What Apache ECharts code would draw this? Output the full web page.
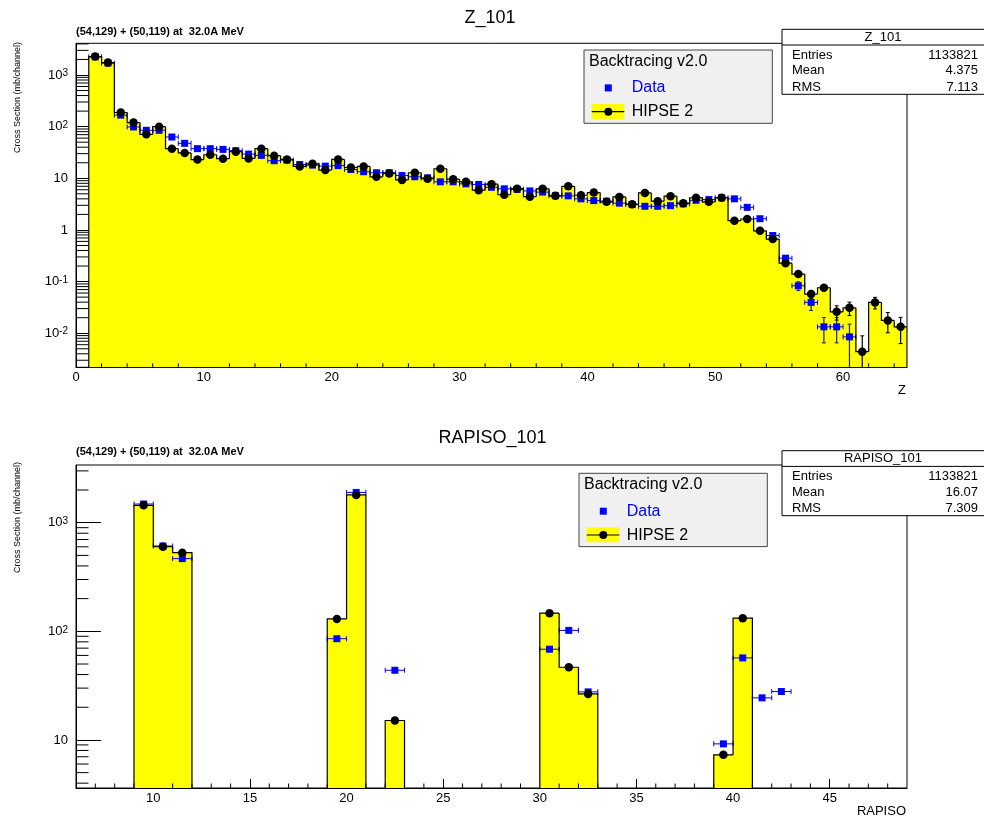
<!DOCTYPE html>
<html><head><meta charset="utf-8">
<script src="https://cdn.jsdelivr.net/npm/echarts@6/dist/echarts.min.js"></script>
<style>html,body{margin:0;padding:0;background:#fff}#c{width:984px;height:821px}</style>
</head><body><div id="c"></div>
<script>
// ================= DATA =================
// --- Z_101 (bins of width 1, given by lower edge) ---
const zHipseBinLow = [1,2,3,4,5,6,7,8,9,10,11,12,13,14,15,16,17,18,19,20,21,22,23,24,25,26,27,28,29,30,31,32,33,34,35,36,37,38,39,40,41,42,43,44,45,46,47,48,49,50,51,52,53,54,55,56,57,58,59,60,61,62,63,64];
const zHipse = [2270,1740,188,120,71,100,37.5,31,23,28.6,
  24,32.8,24.3,37.5,27.4,23.2,17,19.1,14.4,23.2,
  16.2,17,10.7,12.4,9.3,12.8,9.8,15.3,9.6,8.55,
  5.9,7.7,4.8,6.3,4.4,6.25,4.57,7.0,4.7,5.3,
  3.5,4.35,3.15,5.2,3.6,4.5,3.3,4.2,3.5,4.2,
  1.51,1.63,0.96,0.665,0.227,0.14,0.0574,0.076,0.026,0.031,
  0.0044,0.0395,0.0177,0.0133];
const zHipseErr = [0,0,0,0,0,0,0,0,0,0, 0,0,0,0,0,0,0,0,0,0, 0,0,0,0,0,0,0,0,0,0,
  0,0,0,0,0,0,0,0,0,0, 0,0,0,0,0,0,0,0,0,0, 0,0,0,0,0.02,0.012,0.01,0.01,0.008,0.009,
  0.0045,0.01,0.0075,0.007];
const zDataBinLow = [1,2,3,4,5,6,7,8,9,10,11,12,13,14,15,16,17,18,19,20,21,22,23,24,25,26,27,28,29,30,31,32,33,34,35,36,37,38,39,40,41,42,43,44,45,46,47,48,49,50,51,52,53,54,55,56,57,58,59,60];
const zData = [2250,1700,167,98.6,85,85,63,47.5,37.5,37.5,
  36.3,34.3,29.4,27.8,21.9,22.5,18.5,18,17.2,17.6,
  14.8,13.4,12.8,12.8,11.3,10.7,10.2,8.55,8.55,7.8,
  7.6,6.7,6.25,6.1,5.7,5.4,4.6,4.57,4.0,3.7,
  3.6,3.3,3.1,2.87,2.87,2.95,3.2,3.75,3.87,4.2,
  4.0,2.74,1.65,0.78,0.284,0.083,0.0395,0.0133,0.0133,0.0085];
const zDataErr = [0,0,0,0,0,0,0,0,0,0, 0,0,0,0,0,0,0,0,0,0, 0,0,0,0,0,0,0,0,0,0,
  0,0,0,0,0,0,0,0,0,0, 0,0,0,0,0,0,0,0,0,0, 0,0,0,0,0.02,0.016,0.012,0.0068,0.0068,0.0065];
const zXMinorTicks = [2,4,6,8,12,14,16,18,22,24,26,28,32,34,36,38,42,44,46,48,52,54,56,58,62,64];
const zStatsValues = ['1133821','4.375','7.113'];

// --- RAPISO_101 ---
const rapHipseBinLow = [9,10,11,19,20,22,30,31,32,39,40];
const rapHipse = [1445,601,530,130,1800,15.1,147,46.7,26.5,7.3,132];
const rapDataBinLow = [9,10,11,19,20,22,30,31,32,39,40,41,42];
const rapData = [1486,610,467,85.5,1900,43.8,68.4,102,27.7,9.2,56.9,24.4,27.9];
const rapXMinorTicks = [7,8,9,11,12,13,14,16,17,18,19,21,22,23,24,26,27,28,29,31,32,33,34,36,37,38,39,41,42,43,44,46,47,48];
const rapStatsValues = ['1133821','16.07','7.309'];

const statLabels = ['Entries','Mean','RMS'];
const legendTitle = 'Backtracing v2.0';
const legendData = 'Data';
const legendModel = 'HIPSE 2';
const subTitle = '(54,129) + (50,119) at  32.0A MeV';
const yTitle = 'Cross Section (mb/channel)';

// ================= STYLE / LAYOUT =================
const F = '"Liberation Sans", Arial, Helvetica, sans-serif';
const TOP = {left:76, top:43.3, width:831, height:324, xmin:0, xmax:65, ymin:0.00219, ymax:4110};
const BOT = {left:76, top:465, width:831, height:323, xmin:6, xmax:49, ymin:3.61, ymax:3398};

function logMinorTicks(lo, hi) {
  const out = [];
  for (let k = -4; k <= 4; k++) for (let m = 2; m <= 9; m++) {
    const v = m * Math.pow(10, k);
    if (v > lo && v < hi) out.push(v);
  }
  return out;
}

function histRender(lows, vals, mode) {
  const has = {};
  lows.forEach((b, i) => { has[b] = vals[i]; });
  return function (params, api) {
    const cs = params.coordSys;
    const bottom = cs.y + cs.height;
    const lo = api.value(0), v = api.value(1), hi = lo + 1;
    const pLo = api.coord([lo, v]), pHi = api.coord([hi, v]);
    if (mode === 'fill') {
      const ext = has[hi] !== undefined ? 1 : 0;
      return {type:'rect', shape:{x:pLo[0], y:pLo[1], width:pHi[0]-pLo[0]+ext, height:bottom-pLo[1]},
        style:{fill:'#ffff00', stroke:'none'}};
    }
    const prev = has[lo - 1], next = has[hi];
    const yPrev = prev !== undefined ? api.coord([lo, prev])[1] : bottom;
    const pts = [[pLo[0], yPrev], pLo, pHi];
    if (next === undefined) pts.push([pHi[0], bottom]);
    return {type:'polyline', shape:{points:pts}, style:{stroke:'#000', lineWidth:1.2, fill:'none'}};
  };
}

function errRender(hColor, vColor) {
  return function (params, api) {
    const cs = params.coordSys;
    const bottom = cs.y + cs.height;
    const x = api.value(0), v = api.value(1), e = api.value(2), hw = api.value(3);
    const c = api.coord([x, v]);
    const ch = [];
    if (hw > 0) {
      const l = api.coord([x - hw, v])[0], r = api.coord([x + hw, v])[0];
      ch.push({type:'line', shape:{x1:l, y1:c[1], x2:r, y2:c[1]}, style:{stroke:hColor, lineWidth:1}});
      ch.push({type:'line', shape:{x1:l, y1:c[1]-2.5, x2:l, y2:c[1]+2.5}, style:{stroke:hColor, lineWidth:1}});
      ch.push({type:'line', shape:{x1:r, y1:c[1]-2.5, x2:r, y2:c[1]+2.5}, style:{stroke:hColor, lineWidth:1}});
    }
    if (e > 0) {
      const yHi = api.coord([x, v + e])[1];
      const yLo = (v - e) > 0 ? api.coord([x, v - e])[1] : bottom + 20;
      ch.push({type:'line', shape:{x1:c[0], y1:yLo, x2:c[0], y2:yHi}, style:{stroke:vColor, lineWidth:1.2}});
      ch.push({type:'line', shape:{x1:c[0]-2, y1:yHi, x2:c[0]+2, y2:yHi}, style:{stroke:vColor, lineWidth:1}});
      if ((v - e) > 0) ch.push({type:'line', shape:{x1:c[0]-2, y1:yLo, x2:c[0]+2, y2:yLo}, style:{stroke:vColor, lineWidth:1}});
    }
    return {type:'group', children:ch};
  };
}

function xTickRender(len) {
  return function (params, api) {
    const cs = params.coordSys; const b = cs.y + cs.height;
    const x = api.coord([api.value(0), api.value(1)])[0];
    return {type:'line', shape:{x1:x, y1:b, x2:x, y2:b-len}, style:{stroke:'#000', lineWidth:1}};
  };
}
function yTickRender(len) {
  return function (params, api) {
    const cs = params.coordSys;
    const y = api.coord([api.value(0), api.value(1)])[1];
    return {type:'line', shape:{x1:cs.x, y1:y, x2:cs.x+len, y2:y}, style:{stroke:'#000', lineWidth:1}};
  };
}

function yLabelFmt(v) {
  const l = Math.log10(v); const e = Math.round(l);
  if (Math.abs(l - e) > 1e-6) return '';
  if (e === 0) return '1';
  if (e === 1) return '10';
  return '{b|10}{s|' + e + '}';
}

function makeXAxis(g, idx, majorLen, showMin) {
  return {
    type:'value', gridIndex:idx, min:g.xmin, max:g.xmax,
    splitNumber: idx === 0 ? 7 : 8,
    minInterval: idx === 0 ? 10 : 5, maxInterval: idx === 0 ? 10 : 5,
    axisLine:{show:true, onZero:false, lineStyle:{color:'#000', width:1}},
    axisTick:{show:true, inside:true, length:majorLen, lineStyle:{color:'#000', width:1}},
    minorTick:{show:false}, splitLine:{show:false},
    axisLabel:{show:true, color:'#000', fontFamily:F, fontSize:13, margin:4, showMinLabel:showMin, showMaxLabel:false}
  };
}
function makeYAxis(g, idx) {
  return {
    type:'log', logBase:10, gridIndex:idx, min:g.ymin, max:g.ymax,
    axisLine:{show:true, onZero:false, lineStyle:{color:'#000', width:1}},
    axisTick:{show:true, inside:true, length:25, lineStyle:{color:'#000', width:1}},
    minorTick:{show:false}, splitLine:{show:false},
    axisLabel:{show:true, color:'#000', fontFamily:F, fontSize:13, margin:8,
      showMinLabel:false, showMaxLabel:false, formatter:yLabelFmt,
      rich:{ b:{fontSize:13, fontFamily:F, color:'#000', lineHeight:13, padding:[7,0,0,0], verticalAlign:'bottom'},
             s:{fontSize:10, fontFamily:F, color:'#000', lineHeight:12, verticalAlign:'top'} } }
  };
}

function plotSeries(idx, g, hLow, hVal, hErr, dLow, dVal, dErr, xMinor, xMinorLen, yRefForX) {
  const ax = {xAxisIndex:idx, yAxisIndex:idx};
  return [
    Object.assign({type:'custom', name:'fill'+idx, z:1, clip:true, silent:true, renderItem:histRender(hLow, hVal, 'fill'),
      encode:{x:0, y:1}, data:hLow.map((b, i) => [b, hVal[i]])}, ax),
    Object.assign({type:'custom', name:'derr'+idx, z:2, clip:true, silent:true, renderItem:errRender('#0000ee', '#202070'),
      encode:{x:0, y:1}, data:dLow.map((b, i) => [b + 0.5, dVal[i], dErr ? dErr[i] : 0, 0.5])}, ax),
    Object.assign({type:'scatter', name:'data'+idx, z:3, symbol:'rect', symbolSize:7, silent:true,
      itemStyle:{color:'#0000ff', opacity:1}, data:dLow.map((b, i) => [b + 0.5, dVal[i]])}, ax),
    Object.assign({type:'custom', name:'outline'+idx, z:4, clip:true, silent:true, renderItem:histRender(hLow, hVal, 'line'),
      encode:{x:0, y:1}, data:hLow.map((b, i) => [b, hVal[i]])}, ax),
    Object.assign({type:'custom', name:'herr'+idx, z:4, clip:true, silent:true, renderItem:errRender('#000', '#000'),
      encode:{x:0, y:1}, data:hLow.map((b, i) => [b + 0.5, hVal[i], hErr ? hErr[i] : 0, 0])}, ax),
    Object.assign({type:'scatter', name:'hipse'+idx, z:5, symbol:'circle', symbolSize:8.5, silent:true,
      itemStyle:{color:'#000', opacity:1}, data:hLow.map((b, i) => [b + 0.5, hVal[i]])}, ax),
    Object.assign({type:'custom', name:'xminor'+idx, z:6, silent:true, renderItem:xTickRender(xMinorLen),
      encode:{x:0, y:1}, data:xMinor.map(v => [v, yRefForX])}, ax),
    Object.assign({type:'custom', name:'yminor'+idx, z:6, silent:true, renderItem:yTickRender(12.5),
      encode:{x:0, y:1}, data:logMinorTicks(g.ymin, g.ymax).map(v => [g.xmin + 1, v])}, ax)
  ];
}

function txt(x, y, text, size, opts) {
  return Object.assign({type:'text', x:x, y:y, z:100, silent:true,
    style:Object.assign({text:text, fill:'#000', font:size + 'px ' + F, textAlign:'left', textVerticalAlign:'middle'}, opts && opts.style || {})},
    opts && opts.el || {});
}

function legendBox(x, y) {
  return [
    {type:'rect', z:99, silent:true, shape:{x:x, y:y, width:188.3, height:73.3}, style:{fill:'#f0f0f0', stroke:'#444', lineWidth:1}},
    txt(x + 5, y + 11.3, legendTitle, 16),
    {type:'rect', z:100, silent:true, shape:{x:x + 20.8, y:y + 34.4, width:7, height:7}, style:{fill:'#0000ff'}},
    txt(x + 47.7, y + 38, legendData, 16, {style:{fill:'#0000ff'}}),
    {type:'rect', z:100, silent:true, shape:{x:x + 7.7, y:y + 54, width:32.6, height:15}, style:{fill:'#ffff00'}},
    {type:'line', z:101, silent:true, shape:{x1:x + 7.7, y1:y + 61.7, x2:x + 40.3, y2:y + 61.7}, style:{stroke:'#000', lineWidth:1.2}},
    {type:'circle', z:102, silent:true, shape:{cx:x + 24.3, cy:y + 61.7, r:4}, style:{fill:'#000'}},
    txt(x + 47.7, y + 62, legendModel, 16)
  ];
}

function statsBox(y, name, values) {
  const x = 782;
  const els = [
    {type:'rect', z:99, silent:true, shape:{x:x, y:y, width:215, height:65}, style:{fill:'#fff', stroke:'#000', lineWidth:1}},
    {type:'line', z:100, silent:true, shape:{x1:x, y1:y + 15.7, x2:984, y2:y + 15.7}, style:{stroke:'#000', lineWidth:1}},
    txt(883, y + 8, name, 13, {style:{textAlign:'center'}})
  ];
  const rows = [y + 26, y + 41.4, y + 58.2];
  statLabels.forEach((l, i) => {
    els.push(txt(792, rows[i], l, 13));
    els.push(txt(978, rows[i], values[i], 13, {style:{textAlign:'right'}}));
  });
  return els;
}

const graphics = [].concat(
  [txt(490, 18, 'Z_101', 18, {style:{textAlign:'center'}}),
   txt(76, 32, subTitle, 11, {style:{font:'bold 11px ' + F}}),
   txt(18, 42, yTitle, 9, {style:{textAlign:'right'}, el:{rotation:Math.PI / 2}}),
   txt(902, 390, 'Z', 13, {style:{textAlign:'center'}}),
   txt(492.5, 438, 'RAPISO_101', 18, {style:{textAlign:'center'}}),
   txt(76, 452, subTitle, 11, {style:{font:'bold 11px ' + F}}),
   txt(18, 462, yTitle, 9, {style:{textAlign:'right'}, el:{rotation:Math.PI / 2}}),
   txt(906, 811, 'RAPISO', 13, {style:{textAlign:'right'}})],
  legendBox(584, 50),
  legendBox(579, 473.3),
  statsBox(29.3, 'Z_101', zStatsValues),
  statsBox(450.7, 'RAPISO_101', rapStatsValues)
);

const chart = echarts.init(document.getElementById('c'), null, {renderer:'canvas'});
chart.setOption({
  animation:false,
  backgroundColor:'#fff',
  grid:[
    {left:TOP.left, top:TOP.top, width:TOP.width, height:TOP.height, show:true, borderColor:'#000', borderWidth:1, containLabel:false, outerBoundsMode:'none'},
    {left:BOT.left, top:BOT.top, width:BOT.width, height:BOT.height, show:true, borderColor:'#000', borderWidth:1, containLabel:false, outerBoundsMode:'none'}
  ],
  xAxis:[makeXAxis(TOP, 0, 8, true), makeXAxis(BOT, 1, 9, false)],
  yAxis:[makeYAxis(TOP, 0), makeYAxis(BOT, 1)],
  series:[].concat(
    plotSeries(0, TOP, zHipseBinLow, zHipse, zHipseErr, zDataBinLow, zData, zDataErr, zXMinorTicks, 4, 1),
    plotSeries(1, BOT, rapHipseBinLow, rapHipse, null, rapDataBinLow, rapData, null, rapXMinorTicks, 4.5, 10)
  ),
  graphic:graphics
});
</script>
</body></html>
